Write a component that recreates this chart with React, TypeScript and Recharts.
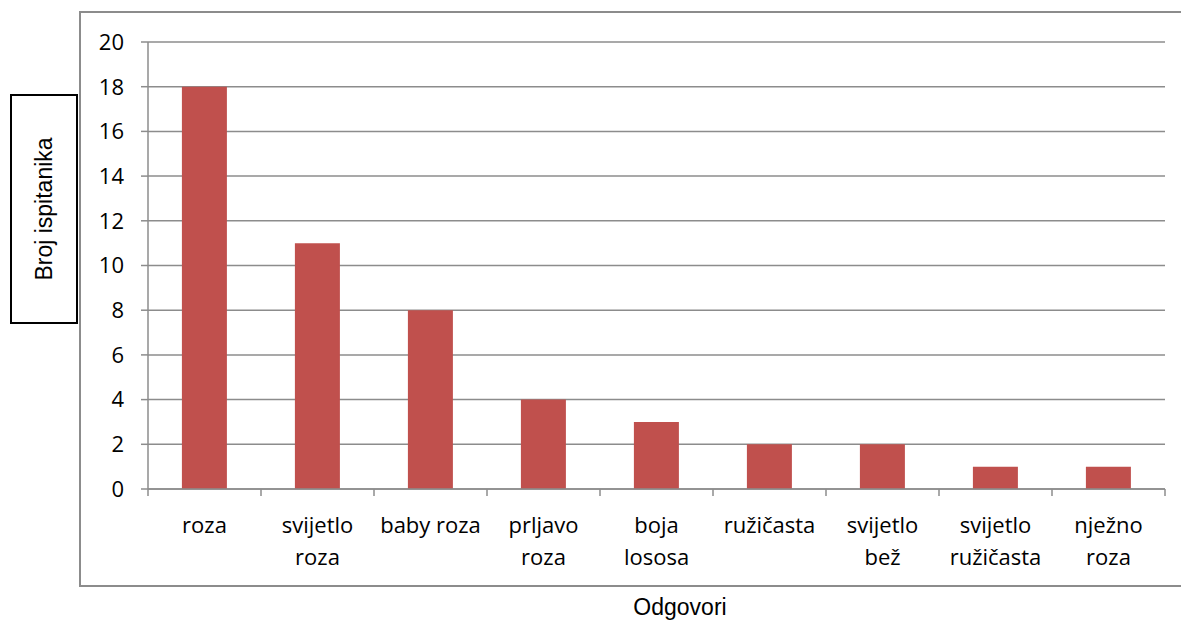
import { BarChart, Bar, XAxis, YAxis, CartesianGrid } from 'recharts'

// answers (line breaks where the reference wraps the label)
const categories = [
  'roza',
  'svijetlo\nroza',
  'baby roza',
  'prljavo\nroza',
  'boja\nlososa',
  'ružičasta',
  'svijetlo\nbež',
  'svijetlo\nružičasta',
  'nježno\nroza',
]
const counts = [18, 11, 8, 4, 3, 2, 2, 1, 1]
const yTicks = [0, 2, 4, 6, 8, 10, 12, 14, 16, 18, 20]

const chartData = categories.map((name, i) => ({ name, value: counts[i] }))

const GRID = '#8c8c8c'
const TICK_FONT = '"Open Sans", sans-serif'
const LABEL_FONT = '"Liberation Sans", Arial, sans-serif'

const CategoryTick = (props: any) => {
  const { x, y, payload, index, width, visibleTicksCount } = props
  const band = width / visibleTicksCount
  const lines = String(payload.value).split('\n')
  return (
    <g>
      <line x1={x - band / 2} y1={y} x2={x - band / 2} y2={y + 7} stroke={GRID} strokeWidth={1.5} />
      {index === visibleTicksCount - 1 && (
        <line x1={x + band / 2} y1={y} x2={x + band / 2} y2={y + 7} stroke={GRID} strokeWidth={1.5} />
      )}
      <text x={x} textAnchor="middle" fontFamily={TICK_FONT} fontSize={22} fill="#000">
        {lines.map((line, i) => (
          <tspan key={i} x={x} y={y + 44 + i * 32}>
            {line}
          </tspan>
        ))}
      </text>
    </g>
  )
}

export default function App() {
  return (
    <div style={{ position: 'absolute', left: 0, top: 0, width: 1181, height: 620, background: '#fff', overflow: 'hidden' }}>
      {/* outer chart frame */}
      <div
        style={{
          position: 'absolute',
          left: 79,
          top: 11,
          width: 1110,
          height: 576,
          border: `2px solid ${GRID}`,
          boxSizing: 'border-box',
        }}
      />
      {/* y axis title box */}
      <div
        style={{
          position: 'absolute',
          left: 10,
          top: 94,
          width: 68,
          height: 230,
          border: '2px solid #000',
          boxSizing: 'border-box',
        }}
      />
      <div
        style={{
          position: 'absolute',
          left: 44,
          top: 209,
          transform: 'translate(-50%, -50%) rotate(-90deg)',
          fontFamily: LABEL_FONT,
          fontSize: 23,
          lineHeight: 1.15,
          whiteSpace: 'nowrap',
        }}
      >
        Broj ispitanika
      </div>
      <div
        style={{
          position: 'absolute',
          left: 680,
          top: 607,
          transform: 'translate(-50%, -50%)',
          fontFamily: LABEL_FONT,
          fontSize: 23,
          lineHeight: 1.15,
          whiteSpace: 'nowrap',
        }}
      >
        Odgovori
      </div>

      <div style={{ position: 'absolute', left: 0, top: 0 }}>
        <BarChart
          width={1181}
          height={620}
          data={chartData}
          margin={{ top: 42, right: 16, left: 0, bottom: 0 }}
          barCategoryGap="30%"
        >
          <CartesianGrid vertical={false} stroke={GRID} strokeWidth={1.5} />
          <XAxis
            dataKey="name"
            interval={0}
            height={131}
            tickLine={false}
            tickSize={0}
            tickMargin={0}
            axisLine={{ stroke: GRID, strokeWidth: 1.5 }}
            tick={<CategoryTick />}
          />
          <YAxis
            width={148}
            domain={[0, 20]}
            ticks={yTicks}
            interval={0}
            tickSize={7}
            tickMargin={17}
            axisLine={{ stroke: GRID, strokeWidth: 1.5 }}
            tickLine={{ stroke: GRID, strokeWidth: 1.5 }}
            tick={{ fill: '#000', fontSize: 22, fontFamily: TICK_FONT }}
          />
          <Bar dataKey="value" fill="#C0504D" isAnimationActive={false} />
        </BarChart>
      </div>
    </div>
  )
}
